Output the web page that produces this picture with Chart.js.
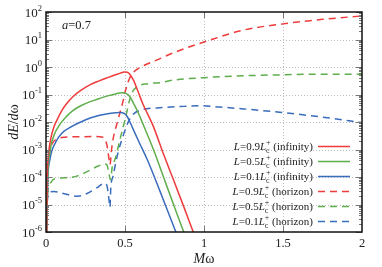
<!DOCTYPE html>
<html>
<head>
<meta charset="utf-8">
<script src="https://cdn.jsdelivr.net/npm/chart.js@4.4.1/dist/chart.umd.min.js"></script>
<style>
  html, body { margin: 0; padding: 0; background: #fff; }
  canvas { display: block; }
</style>
</head>
<body>
<canvas id="chart" width="382" height="267"></canvas>
<script>
// -------------------------------------------------------
// Data
// -------------------------------------------------------
const xTicks = [0, 0.5, 1, 1.5, 2];
const xTickLabels = ['0', '0.5', '1', '1.5', '2'];
const yExps = [2, 1, 0, -1, -2, -3, -4, -5, -6];

// L = 0.9 Lc+ (infinity)
const wInf09 = [0.004, 0.008, 0.013, 0.02, 0.03, 0.05, 0.07, 0.1, 0.13, 0.17, 0.22, 0.28, 0.34, 0.39, 0.44, 0.47, 0.495, 0.515, 0.535, 0.555, 0.58, 0.61, 0.68, 0.74, 0.80, 0.87, 0.93, 0.96];
const eInf09 = [5e-7, 1e-4, 4.4e-4, 1.1e-3, 2.5e-3, 6.6e-3, 1.2e-2, 2.6e-2, 4.6e-2, 8.3e-2, 0.14, 0.23, 0.32, 0.41, 0.52, 0.6, 0.66, 0.64, 0.5, 0.32, 0.14, 0.05, 6.8e-3, 7.8e-4, 1e-4, 8.9e-6, 1.07e-6, 4e-7];

// L = 0.5 Lc+ (infinity)
const wInf05 = [0.004, 0.01, 0.025, 0.05, 0.09, 0.13, 0.17, 0.22, 0.28, 0.34, 0.39, 0.44, 0.48, 0.505, 0.53, 0.555, 0.58, 0.61, 0.68, 0.75, 0.82, 0.87, 0.90];
const eInf05 = [5e-7, 6.3e-5, 8e-4, 3.2e-3, 8.5e-3, 1.6e-2, 2.6e-2, 3.9e-2, 5.5e-2, 7.2e-2, 8.9e-2, 0.105, 0.115, 0.11, 0.085, 0.046, 0.024, 9.5e-3, 1e-3, 7.9e-5, 6.3e-6, 1.07e-6, 4e-7];

// L = 0.1 Lc+ (infinity)
const wInf01 = [0.004, 0.01, 0.025, 0.06, 0.10, 0.17, 0.22, 0.28, 0.34, 0.39, 0.44, 0.47, 0.495, 0.515, 0.535, 0.56, 0.59, 0.64, 0.72, 0.82, 0.85];
const eInf01 = [5e-7, 5e-5, 4.4e-4, 1.8e-3, 3.9e-3, 7.2e-3, 1e-2, 1.4e-2, 1.75e-2, 2e-2, 2.15e-2, 2.2e-2, 2.05e-2, 1.55e-2, 9e-3, 4.3e-3, 1.8e-3, 4.4e-4, 3.2e-5, 1.07e-6, 4e-7];

// L = 0.9 Lc+ (horizon)
const wHor09 = [0.003, 0.006, 0.02, 0.04, 0.07, 0.12, 0.2, 0.3, 0.36, 0.385, 0.398, 0.405, 0.415, 0.424, 0.456, 0.49, 0.5, 0.53, 0.56, 0.6, 0.7, 0.8, 0.9, 1.0, 1.25, 1.5, 1.75, 2.0];
const eHor09 = [1e-5, 1.26e-4, 6.6e-4, 1.66e-3, 2.4e-3, 2.8e-3, 2.9e-3, 2.95e-3, 2.8e-3, 1.5e-3, 5e-4, 2.8e-4, 1e-3, 2.3e-3, 1.2e-2, 6.5e-2, 0.12, 0.4, 0.7, 1.0, 1.78, 3.16, 5.2, 8.1, 22, 37, 54, 72];

// L = 0.5 Lc+ (horizon)
const wHor05 = [0.003, 0.01, 0.03, 0.06, 0.12, 0.2, 0.28, 0.33, 0.37, 0.385, 0.398, 0.408, 0.42, 0.437, 0.468, 0.5, 0.53, 0.545, 0.575, 0.65, 0.72, 0.8, 1.0, 1.25, 1.5, 1.75, 2.0];
const eHor05 = [3e-6, 2.5e-5, 6.3e-5, 8.9e-5, 9.3e-5, 1.1e-4, 1.8e-4, 2.5e-4, 3e-4, 2.8e-4, 1.4e-4, 7.9e-5, 2.5e-4, 4.4e-4, 2.3e-3, 1.2e-2, 6.5e-2, 0.117, 0.19, 0.25, 0.27, 0.33, 0.41, 0.48, 0.52, 0.55, 0.54];

// L = 0.1 Lc+ (horizon)
const wHor01 = [0.003, 0.008, 0.02, 0.05, 0.11, 0.2, 0.26, 0.32, 0.37, 0.385, 0.398, 0.405, 0.41, 0.424, 0.456, 0.487, 0.519, 0.55, 0.61, 0.72, 0.87, 0.98, 1.1, 1.25, 1.5, 1.75, 2.0];
const eHor01 = [1.6e-6, 1.26e-5, 2.75e-5, 3e-5, 2.5e-5, 2e-5, 2.5e-5, 4e-5, 5.9e-5, 5e-5, 1.6e-5, 7.9e-6, 4e-5, 1.05e-4, 7.8e-4, 3e-3, 9.5e-3, 1.86e-2, 2.8e-2, 3.3e-2, 3.7e-2, 3.9e-2, 3.5e-2, 3e-2, 2.2e-2, 1.5e-2, 9.5e-3];

const legendFactors = ['0.9', '0.5', '0.1', '0.9', '0.5', '0.1'];
const legendSides   = ['infinity', 'infinity', 'infinity', 'horizon', 'horizon', 'horizon'];

// -------------------------------------------------------
// Style
// -------------------------------------------------------
const RED = '#ee3b3b', GREEN = '#5fae4c', BLUE = '#3a6cbd';
const SERIF = '"Liberation Serif","DejaVu Serif","Times New Roman",serif';
const TEXT = '#222';
const DASH = [7, 5];

function font(size, italic) {
  return (italic ? 'italic ' : '') + size + 'px ' + SERIF;
}
function zip(xs, ys) {
  return xs.map((x, i) => ({ x, y: ys[i] }));
}
function series(label, xs, ys, color, dashed) {
  return {
    label,
    data: zip(xs, ys),
    borderColor: color,
    borderWidth: 1.5,
    borderDash: dashed ? DASH : [],
    pointRadius: 0,
    cubicInterpolationMode: 'monotone',
    fill: false,
  };
}

// rich text pieces: {t, size, italic, dy} or {sub, sup, size}
function pieceWidth(ctx, p) {
  if (p.sub !== undefined) {
    ctx.font = font(p.size, false);
    return Math.max(ctx.measureText(p.sub).width, ctx.measureText(p.sup).width);
  }
  ctx.font = font(p.size, p.italic);
  return ctx.measureText(p.t).width;
}
function drawRich(ctx, parts, x, y, align) {
  const total = parts.reduce((s, p) => s + pieceWidth(ctx, p), 0);
  let cx = align === 'right' ? x - total : align === 'center' ? x - total / 2 : x;
  ctx.textAlign = 'left';
  ctx.textBaseline = 'alphabetic';
  parts.forEach(p => {
    const w = pieceWidth(ctx, p);
    if (p.sub !== undefined) {
      ctx.font = font(p.size, false);
      ctx.fillText(p.sub, cx, y + 3);
      ctx.fillText(p.sup, cx, y - 5);
    } else {
      ctx.font = font(p.size, p.italic);
      ctx.fillText(p.t, cx, y + (p.dy || 0));
    }
    cx += w;
  });
}
function seg(ctx, x1, y1, x2, y2) {
  ctx.beginPath();
  ctx.moveTo(x1, y1);
  ctx.lineTo(x2, y2);
  ctx.stroke();
}

// -------------------------------------------------------
// Decorations: grid, frame, ticks, labels, legend
// -------------------------------------------------------
const decor = {
  id: 'decor',
  beforeDatasetsDraw(chart) {
    const { ctx, chartArea: a, scales: { x, y } } = chart;
    ctx.save();
    ctx.strokeStyle = '#bdbdbd';
    ctx.lineWidth = 1;
    ctx.setLineDash([1, 2]);
    xTicks.slice(1, -1).forEach(v => {
      const px = Math.round(x.getPixelForValue(v)) + 0.5;
      seg(ctx, px, a.top, px, a.bottom);
    });
    yExps.slice(1, -1).forEach(e => {
      const py = Math.round(y.getPixelForValue(Math.pow(10, e))) + 0.5;
      seg(ctx, a.left, py, a.right, py);
    });
    ctx.restore();
  },
  afterDraw(chart) {
    const { ctx, chartArea: a, scales: { x, y } } = chart;
    ctx.save();

    // ticks (inward)
    ctx.strokeStyle = '#777';
    ctx.lineWidth = 1;
    xTicks.slice(1, -1).forEach(v => {
      const px = Math.round(x.getPixelForValue(v)) + 0.5;
      seg(ctx, px, a.bottom, px, a.bottom - 6);
      seg(ctx, px, a.top, px, a.top + 6);
    });
    yExps.forEach(e => {
      const py = Math.round(y.getPixelForValue(Math.pow(10, e))) + 0.5;
      seg(ctx, a.left, py, a.left + 6, py);
      seg(ctx, a.right, py, a.right - 6, py);
      if (e > -6) {
        for (let m = 2; m <= 9; m++) {
          const pm = Math.round(y.getPixelForValue(m * Math.pow(10, e - 1))) + 0.5;
          seg(ctx, a.left, pm, a.left + 3, pm);
          seg(ctx, a.right, pm, a.right - 3, pm);
        }
      }
    });

    // frame
    ctx.strokeStyle = '#111';
    ctx.lineWidth = 1.5;
    ctx.strokeRect(a.left, a.top, a.right - a.left, a.bottom - a.top);

    ctx.fillStyle = TEXT;

    // x tick labels
    ctx.font = font(12.5, false);
    ctx.textAlign = 'center';
    ctx.textBaseline = 'alphabetic';
    xTicks.forEach((v, i) => {
      ctx.fillText(xTickLabels[i], x.getPixelForValue(v), a.bottom + 15);
    });

    // y tick labels 10^n
    yExps.forEach(e => {
      const py = y.getPixelForValue(Math.pow(10, e));
      drawRich(ctx, [
        { t: '10', size: 13 },
        { t: String(e), size: 8.5, dy: -6 },
      ], a.left - 4, py + 4.5, 'right');
    });

    // axis titles
    drawRich(ctx, [{ t: 'M', size: 14, italic: true }, { t: 'ω', size: 14, italic: false }],
      (a.left + a.right) / 2, a.bottom + 31, 'center');
    ctx.save();
    ctx.translate(18, (a.top + a.bottom) / 2);
    ctx.rotate(-Math.PI / 2);
    drawRich(ctx, [{ t: 'dE', size: 14, italic: true }, { t: '/', size: 14 }, { t: 'd', size: 14, italic: true }, { t: 'ω', size: 14 }],
      0, 0, 'center');
    ctx.restore();

    // spin label
    drawRich(ctx, [{ t: 'a', size: 12.5, italic: true }, { t: '=0.7', size: 12.5 }], a.left + 16, a.top + 17, 'left');

    // legend
    const ds = chart.data.datasets;
    legendFactors.forEach((f, i) => {
      const ly = 146 + i * 15;
      ctx.fillStyle = TEXT;
      drawRich(ctx, [
        { t: 'L', size: 11, italic: true },
        { t: '=' + f, size: 11 },
        { t: 'L', size: 11, italic: true },
        { sub: 'c', sup: '+', size: 8 },
        { t: ' (' + legendSides[i] + ')', size: 11 },
      ], 313, ly + 4, 'right');
      ctx.strokeStyle = ds[i].borderColor;
      ctx.lineWidth = 1.5;
      ctx.setLineDash(ds[i].borderDash);
      seg(ctx, 318, ly + 0.5, 350, ly + 0.5);
      ctx.setLineDash([]);
    });

    ctx.restore();
  },
};

// -------------------------------------------------------
// Chart
// -------------------------------------------------------
new Chart(document.getElementById('chart'), {
  type: 'line',
  data: {
    datasets: [
      series('L=0.9Lc+ (infinity)', wInf09, eInf09, RED, false),
      series('L=0.5Lc+ (infinity)', wInf05, eInf05, GREEN, false),
      series('L=0.1Lc+ (infinity)', wInf01, eInf01, BLUE, false),
      series('L=0.9Lc+ (horizon)', wHor09, eHor09, RED, true),
      series('L=0.5Lc+ (horizon)', wHor05, eHor05, GREEN, true),
      series('L=0.1Lc+ (horizon)', wHor01, eHor01, BLUE, true),
    ],
  },
  options: {
    responsive: false,
    animation: false,
    devicePixelRatio: 1,
    layout: { padding: { left: 46, right: 20, top: 12, bottom: 35 } },
    plugins: { legend: { display: false }, tooltip: { enabled: false } },
    scales: {
      x: {
        type: 'linear', min: 0, max: 2,
        grid: { display: false, drawTicks: false },
        border: { display: false },
        ticks: { display: false },
      },
      y: {
        type: 'logarithmic', min: 1e-6, max: 1e2,
        grid: { display: false, drawTicks: false },
        border: { display: false },
        ticks: { display: false },
      },
    },
  },
  plugins: [decor],
});
</script>
</body>
</html>
